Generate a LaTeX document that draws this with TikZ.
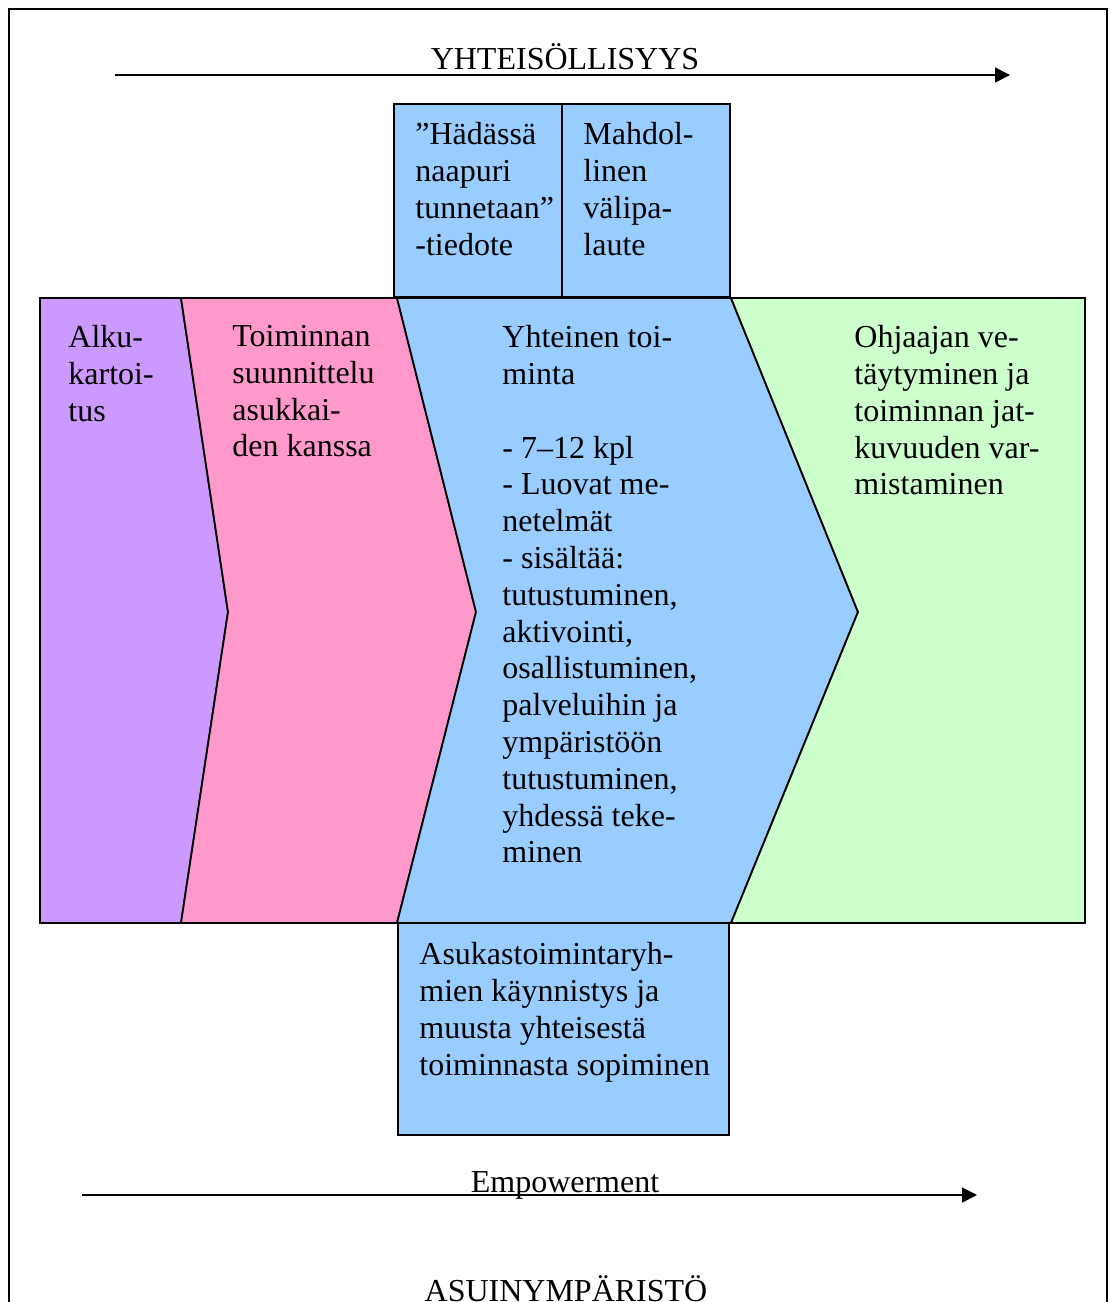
\documentclass[tikz,border=0pt]{standalone}
\usepackage{fontspec}
\setmainfont{Liberation Serif}
\usetikzlibrary{arrows.meta}
\definecolor{violetti}{HTML}{CC99FF}
\definecolor{pinkki}{HTML}{FF99CC}
\definecolor{sininen}{HTML}{99CCFF}
\definecolor{vihrea}{HTML}{CCFFCC}
\begin{document}
\begin{tikzpicture}[x=0.5pt, y=-0.5pt,
    reuna/.style={draw=black, line width=0.9pt},
    teksti/.style={anchor=north west, align=left, inner sep=0pt, font=\fontsize{16}{18.4}\selectfont,
      execute at begin node=\strut},
    otsikko/.style={anchor=base, inner sep=0pt, font=\fontsize{16}{18.4}\selectfont},
    nuoli/.style={line width=0.8pt, -{Triangle[length=7.5pt,width=7.5pt]}}]
    \useasboundingbox (0,0) rectangle (1110,1302);
    \draw[line width=0.6pt] (9,1302) -- (9,9) -- (1107,9) -- (1107,1302);

    \foreach \vari/\xa/\ka/\xb/\kb in {violetti/40/40/181/228, pinkki/181/228/397/476,
                                       sininen/397/476/731/858, vihrea/731/858/1085/1085}
      {
        \filldraw[reuna, fill=\vari] (\xa,298) -- (\xb,298) -- (\kb,612) -- (\xb,923)
          -- (\xa,923) -- (\ka,612) -- cycle;
      }

    \filldraw[reuna, fill=sininen] (394,104) rectangle (562,297);
    \filldraw[reuna, fill=sininen] (562,104) rectangle (730,297);
    \filldraw[reuna, fill=sininen] (398,923) rectangle (729,1135);

    \node[otsikko] (yhteisollisyys) at (565,69) {YHTEISÖLLISYYS};
    \coordinate (ylaalku) at (115,75);
    \coordinate (ylaloppu) at (1010,75);
    \draw[nuoli] (ylaalku) -- (ylaloppu);

    \node[teksti] (tiedote) at (415,122) {”Hädässä\\naapuri\\tunnetaan”\\-tiedote};
    \node[teksti] (palaute) at (583,122) {Mahdol-\\linen\\välipa-\\laute};

    \node[teksti] (alku) at (68,325) {Alku-\\kartoi-\\tus};
    \node[teksti] (suunnittelu) at (232,325) {Toiminnan\\suunnittelu\\asukkai-\\den kanssa};
    \node[teksti] (toiminta) at (502,325) {Yhteinen toi-\\minta\\[18.4pt]- 7–12 kpl\\- Luovat me-\\netelmät\\- sisältää:\\tutustuminen,\\aktivointi,\\osallistuminen,\\palveluihin ja\\ympäristöön\\tutustuminen,\\yhdessä teke-\\minen};
    \node[teksti] (vetaytyminen) at (854,325) {Ohjaajan ve-\\täytyminen ja\\toiminnan jat-\\kuvuuden var-\\mistaminen};

    \node[teksti] (sopiminen) at (419,942) {Asukastoimintaryh-\\mien käynnistys ja\\muusta yhteisestä\\toiminnasta sopiminen};

    \node[otsikko] (empowerment) at (565,1192) {Empowerment};
    \coordinate (alaalku) at (82,1195);
    \coordinate (alaloppu) at (977,1195);
    \draw[nuoli] (alaalku) -- (alaloppu);

    \node[otsikko] (asuinymparisto) at (566,1301) {ASUINYMPÄRISTÖ};
\end{tikzpicture}
\end{document}
